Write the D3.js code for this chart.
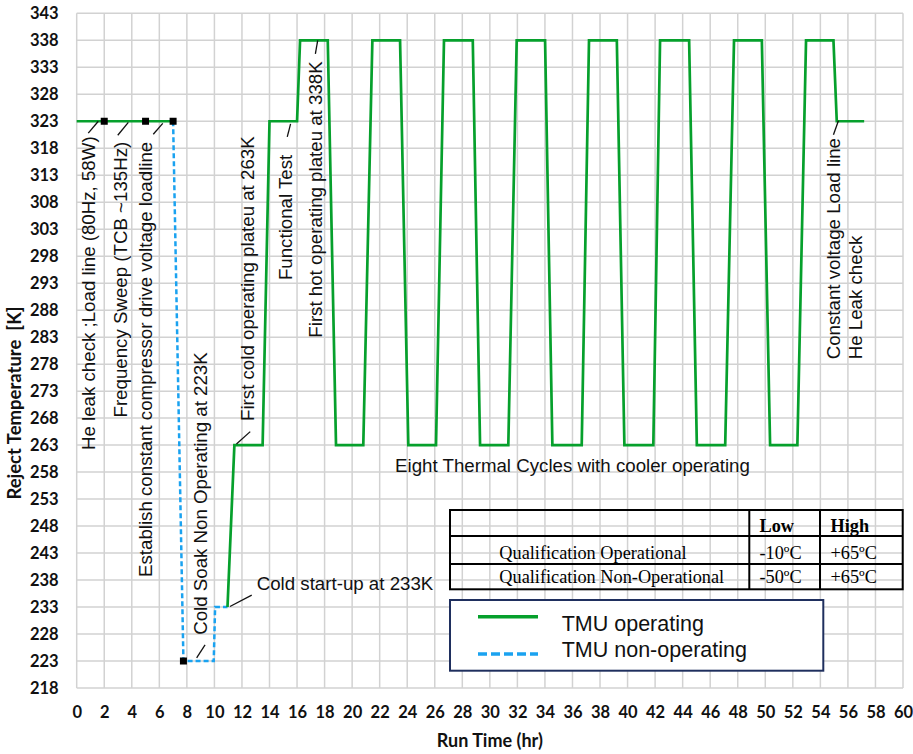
<!DOCTYPE html>
<html>
<head>
<meta charset="utf-8">
<script src="https://cdn.jsdelivr.net/npm/d3@7"></script>
<style>
  html, body { margin: 0; padding: 0; background: #fff; }
  svg { display: block; }
</style>
</head>
<body>
<svg id="chart" width="913" height="754"></svg>
<script>
// ---- Data -------------------------------------------------------------
// TMU operating profile: run time (hr) and reject temperature (K).
// A null entry breaks the line between the first load-line segment and the rest.
const opTime = [0, 7, null, 10.95, 11.45, 13.5, 14.0, 16.0,
  16.22, 18.23, 18.83, 20.81, 21.47, 23.48, 24.08, 26.09,
  26.67, 28.76, 29.29, 31.34, 31.95, 34.01, 34.54, 36.67,
  37.2, 39.22, 39.77, 41.87, 42.36, 44.47, 45.03, 47.09,
  47.73, 49.75, 50.35, 52.33, 52.96, 54.95, 55.19, 57.18];
const opTemp = [323, 323, null, 233, 263, 263, 323, 323,
  338, 338, 263, 263, 338, 338, 263, 263,
  338, 338, 263, 263, 338, 338, 263, 263,
  338, 338, 263, 263, 338, 338, 263, 263,
  338, 338, 263, 263, 338, 338, 323, 323];

// TMU non-operating (cold soak) profile.
const nonOpTime = [7, 7.75, 9.95, 10.05, 10.95];
const nonOpTemp = [323, 223, 223, 233, 233];

// Event markers.
const markerTime = [2, 5, 7, 7.75];
const markerTemp = [323, 323, 323, 223];

// Axis ticks.
const xTicks = d3.range(0, 61, 2);
const yTicks = d3.range(218, 344, 5);

// Rotated annotations: x (hr), top end (K), text.
const vNotes = [
  { x: 0.84, top: 320.2, text: "He leak check ;Load line (80Hz, 58W)", lead: [0.84, 320.8, 1.57, 323] },
  { x: 3.14, top: 319.2, text: "Frequency Sweep (TCB ~135Hz)", lead: [2.98, 320.4, 3.75, 322.8] },
  { x: 4.96, top: 319.2, text: "Establish constant compressor drive voltage loadline", lead: [5.56, 320.6, 6.25, 322.6] },
  { x: 8.95, top: 280.2, text: "Cold Soak Non Operating at 223K", lead: [8.71, 223.6, 9.32, 226.0] },
  { x: 12.35, top: 320.2, text: "First cold operating plateu at 263K", lead: [11.6, 263.2, 12.6, 265.5] },
  { x: 15.13, top: 316.8, text: "Functional Test", lead: [15.29, 320.1, 15.53, 322.5] },
  { x: 17.31, top: 334.1, text: "First hot operating plateu at 338K", lead: [17.33, 335.5, 17.5, 338] },
  { x: 54.95, top: 319.9, text: "Constant voltage Load line", lead: [54.95, 320.5, 55.31, 323.1] }
];
const vNoteSecondLine = { x: 56.52, text: "He Leak check" };

// Horizontal annotations.
const hNotes = [
  { x: 36.0, y: 258.1, anchor: "middle", text: "Eight Thermal Cycles with cooler operating", lead: null },
  { x: 13.07, y: 236.1, anchor: "start", text: "Cold start-up at 233K", lead: [11.13, 233.1, 12.71, 235.2] }
];

// Qualification table.
const tableHeader = ["", "Low", "High"];
const tableRows = [
  ["Qualification Operational", "-10ºC", "+65ºC"],
  ["Qualification Non-Operational", "-50ºC", "+65ºC"]
];

const seriesNames = ["TMU operating", "TMU non-operating"];

// ---- Layout -----------------------------------------------------------
const W = 913, H = 754;
const plot = { left: 76.7, right: 903, top: 13.3, bottom: 688 };
const GREEN = "#06a02c", BLUE = "#1aa2f0", GRID = "#d2d2d2";
const tickFont = "Lato, 'Liberation Sans', Arial, sans-serif";
const noteFont = "'Liberation Sans', Arial, sans-serif";
const serifFont = "'Liberation Serif', 'Times New Roman', serif";
const NOTE_SIZE = 18.7;

const svg = d3.select("#chart");
svg.append("rect").attr("width", W).attr("height", H).attr("fill", "#fff");

const x = d3.scaleLinear().domain([0, 60]).range([plot.left, plot.right]);
const y = d3.scaleLinear().domain([218, 343]).range([plot.bottom, plot.top]);

// Gridlines
const grid = svg.append("g");
grid.selectAll("line.v").data(xTicks).join("line")
  .attr("x1", d => x(d)).attr("x2", d => x(d))
  .attr("y1", plot.top).attr("y2", plot.bottom)
  .attr("stroke", GRID).attr("stroke-width", 1.5);
grid.selectAll("line.h").data(yTicks).join("line")
  .attr("x1", plot.left).attr("x2", plot.right)
  .attr("y1", d => y(d)).attr("y2", d => y(d))
  .attr("stroke", GRID).attr("stroke-width", 1.5);

// Axes (labels only, lines come from the grid)
const xAxis = svg.append("g")
  .attr("transform", `translate(0,${plot.bottom + 11})`)
  .call(d3.axisBottom(x).tickValues(xTicks).tickSize(0).tickFormat(d3.format("d")));
xAxis.select(".domain").remove();
xAxis.selectAll("text")
  .attr("font-family", tickFont).attr("font-weight", "bold").attr("font-size", 16.5)
  .attr("fill", "#111").attr("dy", "0.95em");

const yAxis = svg.append("g")
  .attr("transform", `translate(${plot.left - 18},0)`)
  .call(d3.axisLeft(y).tickValues(yTicks).tickSize(0).tickFormat(d3.format("d")));
yAxis.select(".domain").remove();
yAxis.selectAll("text")
  .attr("font-family", tickFont).attr("font-weight", "bold").attr("font-size", 16.5)
  .attr("fill", "#111").attr("x", 0);

// Axis titles
svg.append("text")
  .attr("x", (plot.left + plot.right) / 2).attr("y", 747)
  .attr("text-anchor", "middle")
  .attr("font-family", tickFont).attr("font-weight", "bold").attr("font-size", 18)
  .attr("fill", "#111").text("Run Time (hr)");
svg.append("text")
  .attr("transform", `translate(21,${403}) rotate(-90)`)
  .attr("text-anchor", "middle")
  .attr("font-family", tickFont).attr("font-weight", "bold").attr("font-size", 18.5)
  .attr("fill", "#111").attr("xml:space", "preserve").text("Reject Temperature  [K]");

// Lines
const opData = opTime.map((t, i) => ({ t, v: opTemp[i] }));
const nonOpData = nonOpTime.map((t, i) => ({ t, v: nonOpTemp[i] }));
const line = d3.line().defined(d => d.t !== null && d.v !== null).x(d => x(d.t)).y(d => y(d.v));

svg.append("path").datum(nonOpData).attr("d", line)
  .attr("fill", "none").attr("stroke", BLUE).attr("stroke-width", 2.5)
  .attr("stroke-dasharray", "5,3");
svg.append("path").datum(opData).attr("d", line)
  .attr("fill", "none").attr("stroke", GREEN).attr("stroke-width", 2.7)
  .attr("stroke-linejoin", "miter");

// Markers
svg.selectAll("rect.marker").data(markerTime.map((t, i) => ({ t, v: markerTemp[i] }))).join("rect")
  .attr("x", d => x(d.t) - 3.5).attr("y", d => y(d.v) - 3.5)
  .attr("width", 7).attr("height", 7).attr("fill", "#000");

// Annotations
const notes = svg.append("g").attr("font-family", noteFont).attr("font-size", NOTE_SIZE).attr("fill", "#111");
vNotes.forEach(n => {
  notes.append("text")
    .attr("transform", `translate(${x(n.x)},${y(n.top)}) rotate(-90)`)
    .attr("text-anchor", "end").attr("dy", "0.36em")
    .text(n.text);
  if (n.lead) {
    notes.append("line")
      .attr("x1", x(n.lead[0])).attr("y1", y(n.lead[1]))
      .attr("x2", x(n.lead[2])).attr("y2", y(n.lead[3]))
      .attr("stroke", "#111").attr("stroke-width", 1.3);
  }
});
// Second line of the last rotated note shares its starting (lower) edge.
{
  const last = vNotes[vNotes.length - 1];
  const probe = notes.append("text").text(last.text);
  const len = probe.node().getComputedTextLength();
  probe.remove();
  notes.append("text")
    .attr("transform", `translate(${x(vNoteSecondLine.x)},${y(last.top) + len}) rotate(-90)`)
    .attr("text-anchor", "start").attr("dy", "0.36em")
    .text(vNoteSecondLine.text);
}
hNotes.forEach(n => {
  notes.append("text")
    .attr("x", x(n.x)).attr("y", y(n.y))
    .attr("text-anchor", n.anchor)
    .text(n.text);
  if (n.lead) {
    notes.append("line")
      .attr("x1", x(n.lead[0])).attr("y1", y(n.lead[1]))
      .attr("x2", x(n.lead[2])).attr("y2", y(n.lead[3]))
      .attr("stroke", "#111").attr("stroke-width", 1.3);
  }
});

// Qualification table (transparent cells, black rules)
const tbl = { left: 450, right: 902.7, rows: [510, 536, 564, 589.3], cols: [450, 749.3, 820, 902.7] };
const tg = svg.append("g");
tg.append("rect")
  .attr("x", tbl.left).attr("y", tbl.rows[0])
  .attr("width", tbl.right - tbl.left).attr("height", tbl.rows[3] - tbl.rows[0])
  .attr("fill", "none").attr("stroke", "#000").attr("stroke-width", 2);
tbl.rows.slice(1, 3).forEach(r => tg.append("line")
  .attr("x1", tbl.left).attr("x2", tbl.right).attr("y1", r).attr("y2", r)
  .attr("stroke", "#000").attr("stroke-width", 2));
tbl.cols.slice(1, 3).forEach(c => tg.append("line")
  .attr("x1", c).attr("x2", c).attr("y1", tbl.rows[0]).attr("y2", tbl.rows[3])
  .attr("stroke", "#000").attr("stroke-width", 2));
const textX = [499.3, 759.5, 830.5];
const baseY = [531.7, 559.3, 583.3];
tableHeader.forEach((h, j) => {
  if (!h) return;
  tg.append("text").attr("x", textX[j]).attr("y", baseY[0])
    .attr("font-family", serifFont).attr("font-weight", "bold").attr("font-size", 18.3)
    .attr("fill", "#000").text(h);
});
tableRows.forEach((row, i) => {
  row.forEach((cell, j) => {
    tg.append("text").attr("x", textX[j]).attr("y", baseY[i + 1])
      .attr("font-family", serifFont).attr("font-size", 18.3)
      .attr("fill", "#000").text(cell);
  });
});

// Legend
const lg = svg.append("g");
lg.append("rect").attr("x", 450).attr("y", 600).attr("width", 373.3).attr("height", 70.7)
  .attr("fill", "#fff").attr("stroke", "#1f2f5e").attr("stroke-width", 2);
const legendRows = [
  { name: seriesNames[0], color: GREEN, dash: null, ly: 616.7, ty: 631 },
  { name: seriesNames[1], color: BLUE, dash: "9,4", ly: 654, ty: 657 }
];
legendRows.forEach(r => {
  lg.append("line").attr("x1", 478).attr("x2", 538).attr("y1", r.ly).attr("y2", r.ly)
    .attr("stroke", r.color).attr("stroke-width", 3.5)
    .attr("stroke-dasharray", r.dash);
  lg.append("text").attr("x", 561.7).attr("y", r.ty)
    .attr("font-family", noteFont).attr("font-size", 21.5).attr("fill", "#111")
    .text(r.name);
});
</script>
</body>
</html>
